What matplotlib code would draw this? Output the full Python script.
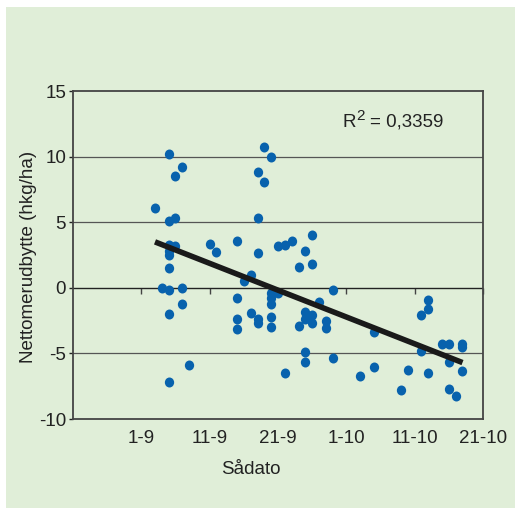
import matplotlib.pyplot as plt
from matplotlib.patches import Rectangle
from matplotlib.markers import MarkerStyle
from matplotlib.transforms import Affine2D

plt.rcParams['font.family'] = 'Liberation Sans'
plt.rcParams['mathtext.fontset'] = 'custom'
plt.rcParams['mathtext.rm'] = 'Liberation Sans'
plt.rcParams['axes.unicode_minus'] = False

# days after 1 September
days = [2, 3, 4, 4, 4, 4, 4, 4, 4, 4, 4,
        5, 5, 5, 6, 6, 6, 7, 10, 11,
        14, 14, 14, 14, 15, 16, 16,
        17, 17, 17, 17, 17, 18, 18,
        19, 19, 19, 19, 19, 19, 20, 20, 21, 21, 22, 23, 23,
        24, 24, 24, 24, 24, 25, 25, 25, 25, 26, 27, 27, 28, 28,
        32, 34, 34, 38, 39, 41, 41, 42, 42, 42,
        44, 45, 45, 45, 46, 47, 47, 47]
netto = [6.1, 0.0, 10.2, 5.1, 3.3, 2.8, 2.5, 1.5, -0.2, -2.0, -7.2,
         8.5, 5.3, 3.2, 9.2, 0.0, -1.2, -5.9, 3.35, 2.7,
         3.55, -0.75, -2.35, -3.15, 0.5, 1.0, -1.9,
         8.85, 5.35, 2.65, -2.4, -2.65, 10.75, 8.05,
         9.95, -0.4, -0.75, -1.25, -2.2, -2.95, 3.15, -0.4, 3.25, -6.5, 3.6, 1.55, -2.9,
         2.8, -1.85, -2.35, -4.9, -5.65, 4.0, 1.85, -2.1, -2.7, -1.05, -2.55, -3.1, -0.15, -5.35,
         -6.7, -3.4, -6.0, -7.8, -6.25, -2.1, -4.85, -0.9, -1.6, -6.5,
         -4.25, -4.25, -5.65, -7.75, -8.25, -4.3, -4.5, -6.35]

trend_days = [2, 47]
trend_vals = [3.5, -5.7]

tick_days = [0, 10, 20, 30, 40, 50]
tick_labels = ['1-9', '11-9', '21-9', '1-10', '11-10', '21-10']

bg = '#e0eed8'
txt = '#222222'
fs = 13.5
fig = plt.figure(figsize=(5.15, 5.09), dpi=100, facecolor='white')
fig.patches.append(Rectangle((6 / 515, 1 / 509), 509 / 515, 501 / 509,
                             transform=fig.transFigure, facecolor=bg,
                             edgecolor='none', zorder=-10))

ax = fig.add_axes([73 / 515, 90 / 509, 410 / 515, 328 / 509])
ax.set_zorder(1)
ax.set_facecolor(bg)
ax.set_xlim(-10, 50)
ax.set_ylim(-10, 15)

for v in [-5, 5, 10]:
    ax.axhline(v, color='#555555', lw=0.9, zorder=1)
ax.axhline(0, color='#222222', lw=1.0, zorder=1)

ax.plot(trend_days, trend_vals, color='#1a1a1a', lw=4, solid_capstyle='butt', zorder=3)
mk = MarkerStyle('o', transform=Affine2D().scale(0.93, 1.0))
ax.plot(days, netto, linestyle='none', marker=mk, color='#0862ad', markersize=7.2,
        mew=0, zorder=2)

# R² label, superscript drawn a bit larger like the original
ax.text(29.4, 12.6, 'R', fontsize=fs, color=txt, va='center')
ax.annotate('2', xy=(29.4, 12.6), xytext=(10, 5), textcoords='offset points',
            fontsize=11, color=txt, va='center')
ax.annotate('= 0,3359', xy=(29.4, 12.6), xytext=(20, 0), textcoords='offset points',
            fontsize=fs, color=txt, va='center')

ax.set_yticks([-10, -5, 0, 5, 10, 15])
ax.set_xticks(tick_days)
ax.set_xticklabels(tick_labels)
ax.tick_params(axis='x', length=0, labelsize=fs, colors=txt, pad=8)
ax.tick_params(axis='y', length=3, labelsize=fs, colors=txt, pad=2, width=1)

for s in ax.spines.values():
    s.set_color('#444444')
    s.set_linewidth(1.3)

# tick marks along the zero line
sec = ax.secondary_xaxis(10 / 25)
sec.set_xticks(tick_days)
sec.tick_params(axis='x', direction='out', length=4, width=1, color='#444444', labelbottom=False, labeltop=False)
sec.spines['bottom'].set_visible(False)
sec.spines['top'].set_visible(False)

fig.text(28.5 / 515, 1 - 257 / 509, 'Nettomerudbytte (hkg/ha)', fontsize=fs, color=txt,
         rotation=90, ha='center', va='center')
fig.text(251 / 515, 1 - 470 / 509, 'Sådato', fontsize=fs, color=txt, ha='center', va='center')

fig.savefig('out.png', dpi=100, facecolor='white')
